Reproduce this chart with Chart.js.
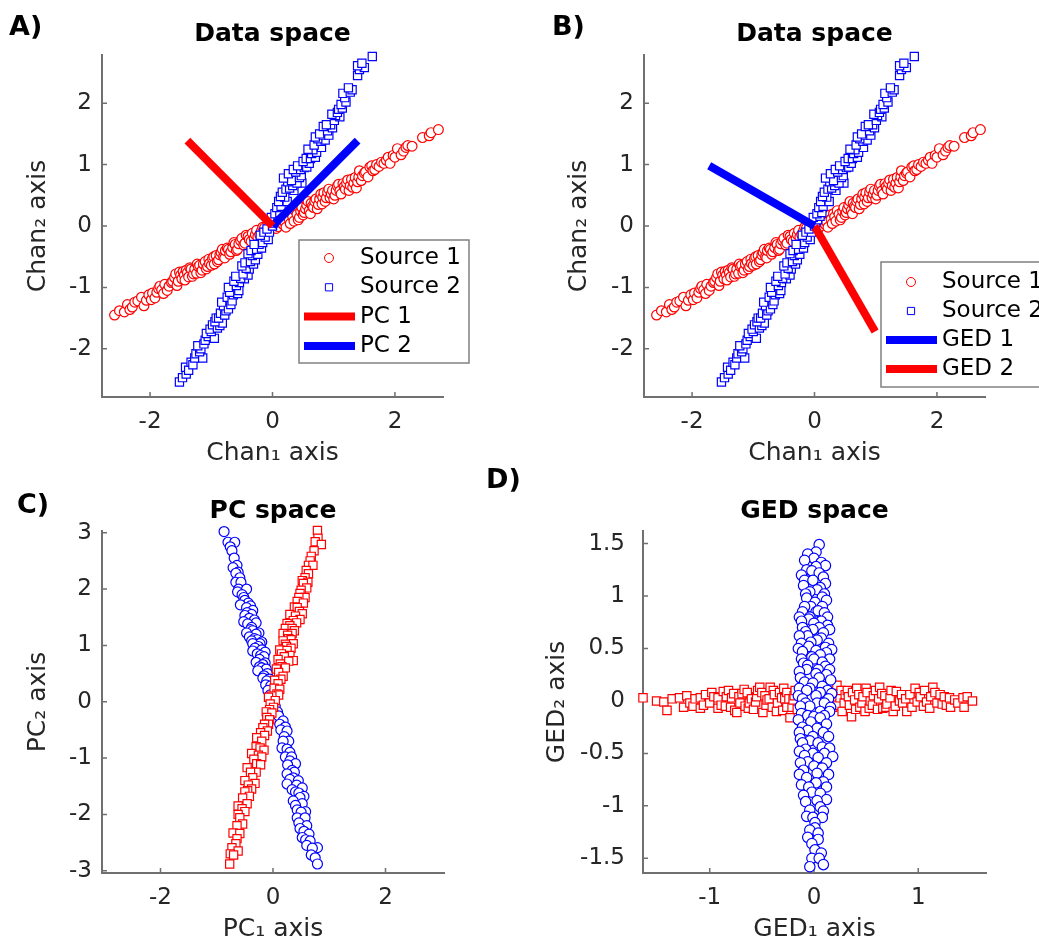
<!DOCTYPE html>
<html>
<head>
<meta charset="utf-8">
<script src="https://cdn.jsdelivr.net/npm/chart.js@4.4.0/dist/chart.umd.min.js"></script>
<style>
  body { margin: 0; background: #fff; }
  #fig { position: relative; width: 1039px; height: 949px; overflow: hidden; }
  #fig canvas { position: absolute; }
  .tag { position: absolute; font: bold 27px "DejaVu Sans", sans-serif; line-height: 27px; color: #000; }
</style>
</head>
<body>
<div id="fig">
  <canvas id="cA" width="520" height="470" style="left:0;top:0"></canvas>
  <canvas id="cB" width="519" height="470" style="left:520px;top:0"></canvas>
  <canvas id="cC" width="520" height="479" style="left:0;top:470px"></canvas>
  <canvas id="cD" width="519" height="479" style="left:520px;top:470px"></canvas>
  <div class="tag" style="left:9px;top:12px">A)</div>
  <div class="tag" style="left:552px;top:12px">B)</div>
  <div class="tag" style="left:17px;top:490px">C)</div>
  <div class="tag" style="left:486px;top:465px">D)</div>
</div>
<script>
// ---- data space (panels A and B) ----
const source1 = [[-2.58,-1.45],[-2.50,-1.38],[-2.42,-1.40],[-2.37,-1.28],[-2.33,-1.36],[-2.29,-1.32],[-2.25,-1.24],[-2.20,-1.22],
  [-2.14,-1.16],[-2.10,-1.30],[-2.06,-1.21],[-2.02,-1.12],[-1.98,-1.20],[-1.96,-1.09],[-1.92,-1.17],[-1.89,-1.08],[-1.86,-1.02],
  [-1.84,-0.98],[-1.81,-1.04],[-1.78,-1.10],[-1.76,-0.95],[-1.72,-1.05],[-1.69,-0.98],[-1.65,-0.92],[-1.63,-0.90],[-1.60,-0.84],
  [-1.58,-0.78],[-1.56,-0.97],[-1.54,-0.90],[-1.52,-0.75],[-1.50,-0.80],[-1.48,-0.86],[-1.46,-0.74],[-1.44,-0.80],[-1.43,-0.88],
  [-1.41,-0.72],[-1.39,-0.76],[-1.37,-0.83],[-1.35,-0.68],[-1.33,-0.70],[-1.31,-0.82],[-1.29,-0.78],[-1.27,-0.70],[-1.24,-0.77],
  [-1.23,-0.62],[-1.21,-0.66],[-1.19,-0.64],[-1.17,-0.76],[-1.15,-0.72],[-1.13,-0.62],[-1.10,-0.58],[-1.08,-0.70],[-1.06,-0.66],
  [-1.04,-0.54],[-1.03,-0.61],[-1.00,-0.64],[-0.98,-0.53],[-0.96,-0.50],[-0.95,-0.62],[-0.92,-0.48],[-0.90,-0.58],[-0.88,-0.55],
  [-0.86,-0.47],[-0.84,-0.43],[-0.82,-0.38],[-0.80,-0.50],[-0.78,-0.52],[-0.77,-0.40],[-0.74,-0.36],[-0.72,-0.38],[-0.70,-0.46],
  [-0.68,-0.42],[-0.65,-0.35],[-0.63,-0.27],[-0.61,-0.30],[-0.59,-0.40],[-0.57,-0.38],[-0.55,-0.29],[-0.52,-0.24],[-0.50,-0.20],
  [-0.47,-0.31],[-0.45,-0.28],[-0.43,-0.15],[-0.40,-0.17],[-0.38,-0.22],[-0.35,-0.25],[-0.33,-0.12],[-0.30,-0.20],[-0.28,-0.14],
  [-0.26,-0.07],[-0.24,-0.18],[-0.21,-0.14],[-0.18,-0.08],[-0.16,-0.02],[-0.13,-0.03],[-0.11,-0.09],[-0.08,-0.10],[-0.06,0.02],
  [-0.02,-0.05],[0.00,0.03],[0.04,0.05],[0.06,-0.04],[0.09,-0.01],[0.11,0.08],[0.14,0.10],[0.16,0.13],[0.18,0.02],[0.20,0.06],
  [0.22,-0.02],[0.25,0.18],[0.27,0.11],[0.29,0.04],[0.31,0.20],[0.33,0.15],[0.35,0.08],[0.37,0.25],[0.40,0.19],[0.42,0.10],
  [0.44,0.14],[0.46,0.24],[0.48,0.30],[0.50,0.18],[0.52,0.22],[0.54,0.28],[0.56,0.34],[0.58,0.40],[0.60,0.25],[0.62,0.20],
  [0.63,0.37],[0.65,0.32],[0.67,0.30],[0.69,0.40],[0.71,0.44],[0.73,0.28],[0.75,0.35],[0.77,0.44],[0.79,0.52],[0.81,0.36],
  [0.82,0.47],[0.84,0.54],[0.86,0.40],[0.88,0.46],[0.90,0.55],[0.92,0.60],[0.94,0.46],[0.96,0.52],[0.98,0.58],[1.00,0.44],
  [1.02,0.50],[1.04,0.58],[1.06,0.65],[1.08,0.68],[1.10,0.57],[1.12,0.52],[1.15,0.69],[1.17,0.64],[1.19,0.60],[1.21,0.70],
  [1.23,0.75],[1.25,0.58],[1.27,0.66],[1.29,0.76],[1.31,0.63],[1.33,0.70],[1.35,0.79],[1.37,0.62],[1.39,0.72],[1.41,0.80],
  [1.42,0.90],[1.45,0.74],[1.47,0.82],[1.50,0.86],[1.52,0.88],[1.56,0.80],[1.59,0.96],[1.62,0.98],[1.64,0.90],[1.67,0.92],
  [1.70,1.00],[1.74,0.97],[1.78,1.04],[1.82,1.02],[1.86,1.07],[1.89,1.12],[1.92,1.02],[1.97,1.15],[2.00,1.12],[2.04,1.26],
  [2.10,1.16],[2.14,1.22],[2.18,1.28],[2.21,1.31],[2.28,1.30],[2.45,1.44],[2.56,1.47],[2.59,1.52],[2.71,1.57]];
const source2 = [[-1.52,-2.54],[-1.47,-2.47],[-1.41,-2.41],[-1.42,-2.30],[-1.37,-2.35],[-1.33,-2.22],[-1.30,-2.26],[-1.27,-2.15],
  [-1.25,-2.08],[-1.14,-2.15],[-1.19,-2.05],[-1.17,-2.00],[-1.22,-1.95],[-1.12,-1.92],[-1.10,-1.86],[-1.05,-1.80],[-1.08,-1.75],
  [-0.95,-1.83],[-1.00,-1.72],[-1.02,-1.68],[-0.98,-1.61],[-0.90,-1.66],[-0.86,-1.62],[-0.82,-1.58],[-0.94,-1.56],[-0.92,-1.50],
  [-0.88,-1.50],[-0.85,-1.42],[-0.78,-1.45],[-0.76,-1.38],[-0.80,-1.30],[-0.72,-1.35],[-0.68,-1.28],[-0.83,-1.24],[-0.74,-1.16],
  [-0.66,-1.22],[-0.64,-1.12],[-0.57,-1.10],[-0.70,-1.08],[-0.55,-1.05],[-0.72,-1.00],[-0.59,-0.97],[-0.54,-0.92],[-0.63,-0.90],
  [-0.46,-0.86],[-0.52,-0.85],[-0.60,-0.82],[-0.40,-0.80],[-0.48,-0.78],[-0.38,-0.70],[-0.43,-0.69],[-0.50,-0.65],[-0.31,-0.62],
  [-0.45,-0.60],[-0.36,-0.58],[-0.28,-0.55],[-0.33,-0.48],[-0.24,-0.46],[-0.40,-0.45],[-0.35,-0.40],[-0.26,-0.38],[-0.18,-0.36],
  [-0.22,-0.30],[-0.30,-0.30],[-0.16,-0.27],[-0.07,-0.22],[-0.12,-0.18],[-0.20,-0.15],[-0.14,-0.10],[-0.05,-0.10],[-0.09,-0.05],
  [0.00,0.00],[0.02,0.05],[0.05,0.10],[-0.02,0.14],[0.09,0.16],[0.04,0.20],[0.12,0.22],[0.07,0.30],[0.14,0.32],[0.10,0.40],
  [0.24,0.40],[0.20,0.47],[0.13,0.48],[0.16,0.55],[0.35,0.58],[0.22,0.60],[0.28,0.62],[0.33,0.66],[0.48,0.70],[0.40,0.70],
  [0.25,0.72],[0.31,0.74],[0.18,0.78],[0.44,0.79],[0.47,0.82],[0.26,0.85],[0.38,0.88],[0.34,0.92],[0.46,0.92],[0.52,0.95],
  [0.56,0.96],[0.41,0.98],[0.60,1.02],[0.50,1.05],[0.55,1.10],[0.62,1.10],[0.70,1.12],[0.64,1.18],[0.72,1.20],[0.66,1.24],
  [0.58,1.25],[0.80,1.28],[0.68,1.32],[0.79,1.38],[0.86,1.40],[0.74,1.42],[0.70,1.45],[0.83,1.48],[0.92,1.48],[0.77,1.50],
  [0.90,1.55],[0.98,1.60],[0.83,1.62],[0.95,1.65],[0.88,1.65],[1.01,1.72],[1.10,1.78],[1.03,1.80],[0.97,1.82],[1.06,1.85],
  [1.08,1.90],[1.14,1.92],[1.12,1.98],[1.20,2.02],[1.18,2.09],[1.15,2.16],[1.27,2.18],[1.30,2.22],[1.24,2.25],[1.39,2.45],
  [1.42,2.55],[1.50,2.58],[1.39,2.61],[1.46,2.65],[1.63,2.76]];
const pc1Vector = [[0, 0], [-1.39, 1.39]];
const pc2Vector = [[0, 0], [1.39, 1.39]];
const ged1Vector = [[0, 0], [-1.72, 0.98]];
const ged2Vector = [[0, 0], [0.99, -1.72]];

// ---- PC space (panel C) ----
const pcSource1 = [[-0.87,3.02],[-0.80,2.83],[-0.68,2.83],[-0.76,2.75],[-0.73,2.68],[-0.69,2.55],[-0.64,2.42],[-0.71,2.38],
  [-0.62,2.30],[-0.66,2.28],[-0.59,2.20],[-0.66,2.12],[-0.57,2.12],[-0.61,2.00],[-0.47,2.00],[-0.63,1.95],[-0.55,1.90],
  [-0.52,1.85],[-0.50,1.80],[-0.44,1.75],[-0.58,1.72],[-0.40,1.70],[-0.47,1.67],[-0.36,1.62],[-0.46,1.58],[-0.38,1.55],
  [-0.50,1.53],[-0.42,1.48],[-0.33,1.45],[-0.52,1.42],[-0.30,1.40],[-0.45,1.38],[-0.38,1.32],[-0.40,1.28],[-0.36,1.26],
  [-0.47,1.22],[-0.25,1.22],[-0.30,1.20],[-0.42,1.15],[-0.33,1.12],[-0.28,1.10],[-0.38,1.08],[-0.20,1.06],[-0.23,1.03],
  [-0.36,1.03],[-0.26,0.98],[-0.32,0.95],[-0.20,0.92],[-0.36,0.90],[-0.14,0.88],[-0.28,0.85],[-0.22,0.82],[-0.16,0.80],
  [-0.24,0.75],[-0.30,0.70],[-0.14,0.69],[-0.18,0.66],[-0.24,0.62],[-0.20,0.60],[-0.12,0.58],[-0.27,0.55],[-0.10,0.50],
  [-0.16,0.46],[-0.18,0.42],[-0.06,0.40],[-0.11,0.37],[-0.13,0.30],[-0.04,0.28],[-0.09,0.20],[-0.05,0.12],[-0.02,0.05],
  [0.02,-0.05],[0.04,-0.08],[0.08,-0.18],[0.10,-0.25],[0.18,-0.34],[0.12,-0.40],[0.22,-0.45],[0.14,-0.50],[0.25,-0.52],
  [0.20,-0.62],[0.28,-0.70],[0.18,-0.70],[0.16,-0.82],[0.25,-0.84],[0.30,-0.90],[0.22,-0.98],[0.33,-0.98],[0.30,-1.05],
  [0.40,-1.10],[0.26,-1.12],[0.34,-1.22],[0.38,-1.25],[0.25,-1.28],[0.36,-1.35],[0.30,-1.38],[0.45,-1.40],[0.25,-1.46],
  [0.42,-1.48],[0.52,-1.53],[0.34,-1.56],[0.40,-1.60],[0.46,-1.62],[0.55,-1.68],[0.48,-1.70],[0.36,-1.76],[0.52,-1.81],
  [0.40,-1.84],[0.43,-1.92],[0.58,-1.95],[0.50,-1.96],[0.43,-2.06],[0.57,-2.06],[0.46,-2.15],[0.60,-2.20],[0.48,-2.25],
  [0.55,-2.30],[0.64,-2.35],[0.52,-2.41],[0.58,-2.45],[0.66,-2.47],[0.60,-2.55],[0.79,-2.59],[0.70,-2.60],[0.68,-2.72],
  [0.75,-2.77],[0.79,-2.88]];
const pcSource2 = [[0.79,3.04],[0.80,2.90],[0.75,2.84],[0.86,2.79],[0.73,2.68],[0.68,2.58],[0.66,2.50],[0.63,2.42],[0.71,2.42],
  [0.59,2.33],[0.63,2.27],[0.57,2.20],[0.52,2.15],[0.62,2.12],[0.54,2.10],[0.60,2.02],[0.50,1.98],[0.48,1.92],[0.57,1.85],
  [0.46,1.85],[0.43,1.78],[0.54,1.75],[0.38,1.68],[0.43,1.67],[0.47,1.60],[0.52,1.56],[0.30,1.55],[0.40,1.52],[0.48,1.46],
  [0.36,1.44],[0.42,1.40],[0.25,1.39],[0.30,1.35],[0.22,1.30],[0.34,1.30],[0.38,1.26],[0.34,1.21],[0.18,1.21],[0.26,1.18],
  [0.28,1.12],[0.32,1.10],[0.18,1.08],[0.36,1.03],[0.22,1.02],[0.24,0.98],[0.32,0.95],[0.12,0.92],[0.25,0.91],[0.15,0.85],
  [0.30,0.82],[0.20,0.80],[0.09,0.75],[0.36,0.73],[0.28,0.72],[0.13,0.67],[0.16,0.62],[0.22,0.60],[0.06,0.58],[0.10,0.52],
  [0.18,0.45],[0.14,0.40],[0.03,0.38],[0.09,0.32],[0.02,0.24],[0.12,0.22],[0.07,0.14],[0.10,0.12],[-0.02,0.10],[-0.08,0.08],
  [0.04,0.02],[-0.05,-0.04],[0.01,-0.10],[-0.06,-0.14],[-0.12,-0.18],[-0.02,-0.20],[-0.11,-0.28],[-0.06,-0.32],[-0.08,-0.40],
  [-0.15,-0.40],[-0.18,-0.46],[-0.10,-0.52],[-0.22,-0.55],[-0.15,-0.60],[-0.29,-0.64],[-0.20,-0.70],[-0.30,-0.80],[-0.23,-0.82],
  [-0.16,-0.86],[-0.38,-0.92],[-0.26,-0.95],[-0.20,-0.98],[-0.34,-1.02],[-0.29,-1.10],[-0.22,-1.12],[-0.46,-1.17],[-0.30,-1.25],
  [-0.40,-1.25],[-0.36,-1.35],[-0.50,-1.40],[-0.32,-1.45],[-0.44,-1.48],[-0.38,-1.55],[-0.45,-1.58],[-0.50,-1.60],[-0.42,-1.68],
  [-0.54,-1.71],[-0.46,-1.81],[-0.62,-1.85],[-0.55,-1.90],[-0.50,-1.95],[-0.62,-2.00],[-0.59,-2.06],[-0.54,-2.17],[-0.64,-2.20],
  [-0.71,-2.33],[-0.59,-2.34],[-0.64,-2.43],[-0.66,-2.52],[-0.73,-2.59],[-0.62,-2.65],[-0.76,-2.70],[-0.70,-2.72],[-0.77,-2.88]];

// ---- GED space (panel D) ----
const gedSource1 = [[0.05,1.49],[0.02,1.42],[-0.06,1.40],[0.00,1.36],[-0.09,1.34],[0.07,1.32],[0.11,1.29],[0.02,1.28],[-0.07,1.25],
  [-0.02,1.24],[0.05,1.22],[-0.12,1.20],[0.09,1.18],[-0.09,1.15],[-0.01,1.15],[0.11,1.12],[-0.10,1.10],[0.06,1.08],[0.03,1.06],
  [-0.04,1.04],[-0.08,1.02],[0.10,1.02],[0.08,0.99],[-0.07,0.98],[0.12,0.96],[0.01,0.94],[-0.03,0.90],[-0.09,0.90],[0.08,0.90],
  [-0.11,0.85],[0.02,0.85],[0.04,0.86],[0.10,0.84],[0.13,0.80],[-0.04,0.80],[-0.14,0.80],[-0.05,0.78],[-0.12,0.76],[0.07,0.76],
  [0.00,0.74],[0.13,0.72],[-0.11,0.70],[0.05,0.70],[0.15,0.68],[-0.01,0.68],[-0.08,0.66],[0.09,0.65],[-0.06,0.62],[-0.14,0.62],
  [0.07,0.60],[0.03,0.58],[-0.03,0.56],[-0.12,0.55],[0.14,0.55],[-0.05,0.52],[0.11,0.51],[-0.15,0.50],[-0.11,0.47],[0.17,0.49],
  [0.02,0.48],[0.12,0.46],[0.06,0.44],[-0.02,0.42],[0.15,0.40],[-0.12,0.40],[0.00,0.40],[0.08,0.37],[-0.10,0.36],[-0.06,0.34],
  [0.11,0.33],[-0.07,0.30],[0.04,0.30],[0.15,0.30],[-0.14,0.28],[0.02,0.26],[0.12,0.25],[-0.13,0.22],[0.05,0.22],[0.16,0.20],
  [-0.09,0.18],[-0.01,0.17],[0.08,0.14],[-0.04,0.12],[-0.14,0.12],[-0.07,0.10],[0.13,0.10],[0.06,0.08],[0.17,0.07],[-0.15,0.05],
  [0.02,0.05],[-0.11,0.02],[0.14,0.02],[0.03,-0.02],[-0.08,-0.02],[0.10,-0.02],[-0.04,-0.05],[-0.13,-0.05],[0.16,-0.06],
  [0.06,-0.10],[0.15,-0.10],[-0.12,-0.12],[-0.06,-0.14],[0.10,-0.14],[0.00,-0.15],[0.06,-0.16],[-0.15,-0.18],[-0.03,-0.20],
  [0.12,-0.22],[-0.11,-0.25],[0.03,-0.26],[-0.06,-0.28],[0.09,-0.30],[-0.14,-0.30],[-0.01,-0.34],[0.14,-0.34],[-0.13,-0.36],
  [-0.04,-0.38],[-0.11,-0.40],[0.04,-0.40],[0.08,-0.44],[0.15,-0.45],[-0.08,-0.46],[-0.14,-0.48],[-0.01,-0.50],[0.10,-0.50],
  [-0.09,-0.52],[0.18,-0.53],[0.04,-0.54],[-0.06,-0.58],[-0.13,-0.59],[0.12,-0.59],[0.00,-0.62],[0.08,-0.64],[-0.10,-0.66],
  [0.03,-0.69],[0.14,-0.70],[-0.14,-0.70],[-0.07,-0.73],[0.09,-0.77],[0.02,-0.78],[-0.12,-0.80],[0.12,-0.82],[-0.05,-0.82],
  [-0.02,-0.87],[0.06,-0.88],[-0.10,-0.90],[0.12,-0.94],[0.03,-0.95],[-0.08,-0.96],[0.06,-1.01],[-0.04,-1.04],[0.09,-1.05],
  [-0.07,-1.10],[-0.01,-1.11],[0.08,-1.11],[0.01,-1.16],[0.01,-1.21],[-0.04,-1.23],[0.04,-1.26],[-0.06,-1.30],[0.04,-1.32],
  [-0.02,-1.36],[0.01,-1.42],[0.07,-1.45],[-0.02,-1.50],[0.05,-1.50],[0.09,-1.56],[-0.04,-1.58]];
const gedSource2 = [[-1.64,0.03],[-1.51,0.00],[-1.44,-0.01],[-1.41,-0.09],[-1.36,0.02],[-1.29,0.03],[-1.25,-0.06],[-1.22,0.05],
  [-1.19,-0.02],[-1.16,-0.05],[-1.14,0.02],[-1.09,0.03],[-1.09,-0.07],[-1.06,-0.04],[-1.04,0.06],[-1.00,-0.02],[-0.98,0.08],
  [-0.96,0.04],[-0.92,0.03],[-0.92,-0.07],[-0.89,-0.04],[-0.87,0.09],[-0.85,-0.05],[-0.84,0.04],[-0.82,0.10],[-0.80,-0.06],
  [-0.79,0.03],[-0.77,0.07],[-0.76,-0.09],[-0.74,-0.11],[-0.72,0.04],[-0.71,-0.02],[-0.69,0.07],[-0.67,0.11],[-0.66,-0.05],
  [-0.64,0.08],[-0.63,-0.07],[-0.62,-0.02],[-0.60,0.02],[-0.58,-0.08],[-0.56,-0.01],[-0.55,0.04],[-0.54,0.10],[-0.52,0.13],
  [-0.50,0.08],[-0.49,-0.11],[-0.47,0.05],[-0.46,-0.04],[-0.45,0.01],[-0.43,0.02],[-0.42,0.13],[-0.40,-0.06],[-0.39,0.10],
  [-0.38,0.06],[-0.36,-0.10],[-0.35,-0.02],[-0.33,0.08],[-0.31,0.03],[-0.30,-0.09],[-0.29,0.12],[-0.28,0.02],[-0.26,0.08],
  [-0.26,-0.06],[-0.24,0.02],[-0.23,-0.16],[-0.21,-0.06],[-0.20,0.01],[-0.19,0.05],[-0.18,0.10],[-0.16,-0.08],[0.16,0.08],
  [0.17,0.02],[0.18,-0.06],[0.19,0.12],[0.20,0.02],[0.22,0.15],[0.23,-0.04],[0.25,0.03],[0.26,0.10],[0.27,-0.10],[0.29,-0.02],
  [0.30,0.06],[0.32,0.10],[0.33,0.04],[0.34,-0.04],[0.36,-0.15],[0.37,0.08],[0.39,0.01],[0.40,-0.08],[0.41,0.12],[0.43,0.06],
  [0.44,-0.06],[0.46,-0.02],[0.47,0.04],[0.49,-0.10],[0.50,0.12],[0.51,0.08],[0.53,-0.07],[0.54,0.00],[0.56,-0.04],[0.57,0.05],
  [0.59,0.10],[0.61,-0.08],[0.62,0.02],[0.63,0.13],[0.65,0.07],[0.66,-0.07],[0.68,0.05],[0.69,-0.06],[0.70,-0.03],[0.73,0.03],
  [0.74,0.10],[0.76,-0.10],[0.78,-0.05],[0.79,0.09],[0.82,0.00],[0.84,0.06],[0.85,-0.02],[0.88,0.02],[0.89,-0.10],[0.92,0.06],
  [0.94,-0.06],[0.97,0.12],[0.99,-0.01],[1.01,0.08],[1.02,0.04],[1.05,-0.05],[1.06,0.10],[1.08,-0.01],[1.11,-0.07],[1.12,0.04],
  [1.14,0.13],[1.16,0.08],[1.18,-0.02],[1.21,0.06],[1.23,-0.03],[1.25,0.04],[1.27,-0.04],[1.30,0.03],[1.31,-0.06],[1.35,0.01],
  [1.38,-0.02],[1.43,0.03],[1.44,-0.06],[1.47,0.04],[1.52,0.00]];

// ---- ticks ----
const dataXTicks = [-2, 0, 2];
const dataYTicks = [-2, -1, 0, 1, 2];
const pcXTicks = [-2, 0, 2];
const pcYTicks = [-3, -2, -1, 0, 1, 2, 3];
const gedXTicks = [-1, 0, 1];
const gedYTicks = [-1.5, -1, -0.5, 0, 0.5, 1, 1.5];
const gedYTickLabels = ['-1.5', '-1', '-0.5', '0', '0.5', '1', '1.5'];

const RED = '#ff0000';
const BLUE = '#0000ff';
const AXIS = '#707070';
const FONT = '"DejaVu Sans", sans-serif';
Chart.defaults.font.family = FONT;

const pts = arr => arr.map(([x, y]) => ({ x, y }));

const scatterSet = (label, arr, color, style, order, r) => ({
  label, data: pts(arr), showLine: false, order, clip: false,
  pointStyle: style, pointRadius: r,
  pointBorderColor: color, pointBackgroundColor: '#fff', pointBorderWidth: 1.2
});
const vectorSet = (label, arr, color) => ({
  label, data: pts(arr), showLine: true, order: 0, clip: false,
  borderColor: color, borderWidth: 8, pointRadius: 0, borderCapStyle: 'butt'
});

// tick marks drawn inward, like the original axes
const inwardTicks = {
  id: 'inwardTicks',
  beforeDatasetsDraw(chart) {
    const { ctx, chartArea: a, scales: { x, y } } = chart;
    ctx.save();
    ctx.strokeStyle = AXIS;
    ctx.lineWidth = 1.5;
    ctx.beginPath();
    x.ticks.forEach(t => { const px = x.getPixelForValue(t.value); ctx.moveTo(px, a.bottom); ctx.lineTo(px, a.bottom - 5); });
    y.ticks.forEach(t => { const py = y.getPixelForValue(t.value); ctx.moveTo(a.left, py); ctx.lineTo(a.left + 5, py); });
    ctx.stroke();
    ctx.restore();
  }
};

// boxed legend inside the axes
const boxLegend = {
  id: 'boxLegend',
  afterDraw(chart, args, o) {
    if (!o.show) return;
    const ctx = chart.ctx;
    ctx.save();
    ctx.fillStyle = '#fff';
    ctx.fillRect(o.left, o.top, o.width, o.height);
    ctx.strokeStyle = '#808080';
    ctx.lineWidth = 1.5;
    ctx.strokeRect(o.left, o.top, o.width, o.height);
    ctx.font = '23px ' + FONT;
    ctx.textBaseline = 'middle';
    chart.data.datasets.forEach((ds, i) => {
      const y = o.top + o.firstRow + i * o.rowGap;
      if (ds.showLine) {
        ctx.strokeStyle = ds.borderColor;
        ctx.lineWidth = ds.borderWidth;
        ctx.beginPath();
        ctx.moveTo(o.left + 5, y);
        ctx.lineTo(o.left + 56, y);
        ctx.stroke();
      } else {
        const cx = o.left + 30;
        ctx.strokeStyle = ds.pointBorderColor;
        ctx.lineWidth = 1;
        ctx.beginPath();
        if (ds.pointStyle === 'rect') ctx.rect(cx - 3.6, y - 3.6, 7.2, 7.2);
        else ctx.arc(cx, y, 4.5, 0, Math.PI * 2);
        ctx.stroke();
      }
      ctx.fillStyle = '#000';
      ctx.fillText(ds.label, o.left + 61, y);
    });
    ctx.restore();
  }
};

function panel(id, p) {
  new Chart(document.getElementById(id), {
    type: 'scatter',
    data: { datasets: p.datasets },
    plugins: [inwardTicks, boxLegend],
    options: {
      responsive: false,
      animation: false,
      events: [],
      layout: { padding: { left: 0, top: 0, right: p.padRight, bottom: 0 }, autoPadding: false },
      plugins: {
        legend: { display: false },
        tooltip: { enabled: false },
        title: {
          display: true, text: p.title, fullSize: false, color: '#000',
          font: { size: 25, weight: 'bold' }, padding: p.titlePad
        },
        boxLegend: p.legend || { show: false }
      },
      scales: {
        x: {
          type: 'linear', min: p.xRange[0], max: p.xRange[1],
          afterBuildTicks: s => { s.ticks = p.xTicks.map(v => ({ value: v })); },
          afterFit: s => { s.height = p.xAxisH; },
          grid: { display: false, drawTicks: false, tickLength: 0 },
          border: { display: true, color: AXIS, width: 2 },
          ticks: { color: '#262626', font: { size: 23 }, padding: 11, maxRotation: 0, autoSkip: false },
          title: { display: true, text: p.xTitle, color: '#262626', font: { size: 25 }, padding: { top: 0, bottom: p.xTitleBottom } }
        },
        y: {
          type: 'linear', min: p.yRange[0], max: p.yRange[1],
          afterBuildTicks: s => { s.ticks = p.yTicks.map(v => ({ value: v })); },
          afterFit: s => { s.width = p.yAxisW; },
          grid: { display: false, drawTicks: false, tickLength: 0 },
          border: { display: true, color: AXIS, width: 2 },
          ticks: {
            color: '#262626', font: { size: 23 }, padding: p.yTickPad, autoSkip: false,
            callback: (v, i) => p.yLabels ? p.yLabels[i] : String(v)
          },
          title: { display: true, text: p.yTitle, color: '#262626', font: { size: 25 }, padding: { top: p.yTitleTop, bottom: 0 } }
        }
      }
    }
  });
}

panel('cA', {
  title: 'Data space', titlePad: { top: 19, bottom: 6 },
  datasets: [
    scatterSet('Source 1', source1, RED, 'circle', 3, 4.9),
    scatterSet('Source 2', source2, BLUE, 'rect', 2, 5.8),
    vectorSet('PC 1', pc1Vector, RED),
    vectorSet('PC 2', pc2Vector, BLUE)
  ],
  xRange: [-2.785, 2.785], yRange: [-2.785, 2.785], xTicks: dataXTicks, yTicks: dataYTicks,
  padRight: 77, yAxisW: 102, xAxisH: 73, yTickPad: 10,
  xTitle: 'Chan\u2081 axis', yTitle: 'Chan\u2082 axis', xTitleBottom: 2, yTitleTop: 23,
  legend: { show: true, left: 299, top: 240, width: 170, height: 123, firstRow: 18, rowGap: 29.3 }
});

panel('cB', {
  title: 'Data space', titlePad: { top: 19, bottom: 6 },
  datasets: [
    scatterSet('Source 1', source1, RED, 'circle', 3, 4.9),
    scatterSet('Source 2', source2, BLUE, 'rect', 2, 5.8),
    vectorSet('GED 1', ged1Vector, BLUE),
    vectorSet('GED 2', ged2Vector, RED)
  ],
  xRange: [-2.785, 2.785], yRange: [-2.785, 2.785], xTicks: dataXTicks, yTicks: dataYTicks,
  padRight: 54, yAxisW: 124, xAxisH: 73, yTickPad: 10,
  xTitle: 'Chan\u2081 axis', yTitle: 'Chan\u2082 axis', xTitleBottom: 2, yTitleTop: 44,
  legend: { show: true, left: 361, top: 262, width: 175, height: 125, firstRow: 20, rowGap: 29 }
});

panel('cC', {
  title: 'PC space', titlePad: { top: 26, bottom: 5 },
  datasets: [
    scatterSet('Source 1', pcSource1, BLUE, 'circle', 3, 5),
    scatterSet('Source 2', pcSource2, RED, 'rect', 2, 5.8)
  ],
  xRange: [-3.04, 3.04], yRange: [-3.04, 3.03], xTicks: pcXTicks, yTicks: pcYTicks,
  padRight: 76, yAxisW: 102, xAxisH: 76, yTickPad: 10,
  xTitle: 'PC\u2081 axis', yTitle: 'PC\u2082 axis', xTitleBottom: 5, yTitleTop: 23
});

panel('cD', {
  title: 'GED space', titlePad: { top: 26, bottom: 5 },
  datasets: [
    scatterSet('Source 1', gedSource1, BLUE, 'circle', 2, 5.2),
    scatterSet('Source 2', gedSource2, RED, 'rect', 3, 5.9)
  ],
  xRange: [-1.64, 1.65], yRange: [-1.64, 1.62], xTicks: gedXTicks, yTicks: gedYTicks, yLabels: gedYTickLabels,
  padRight: 53, yAxisW: 123, xAxisH: 76, yTickPad: 18,
  xTitle: 'GED\u2081 axis', yTitle: 'GED\u2082 axis', xTitleBottom: 5, yTitleTop: 22
});
</script>
</body>
</html>
